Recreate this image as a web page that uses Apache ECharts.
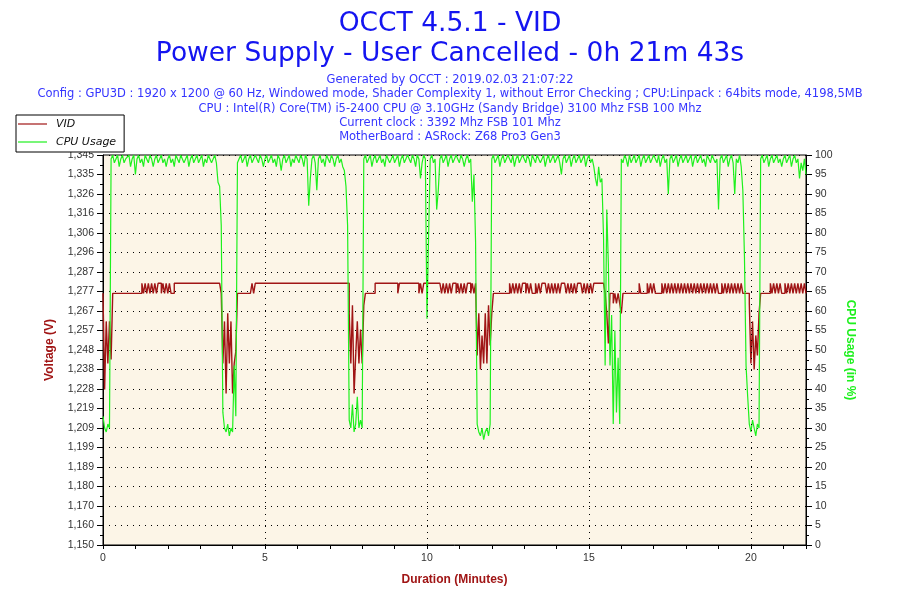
<!DOCTYPE html>
<html><head><meta charset="utf-8">
<script src="https://cdn.jsdelivr.net/npm/echarts@6/dist/echarts.min.js"></script>
<style>html,body{margin:0;padding:0;background:#fff}#c{width:900px;height:600px}</style>
</head><body><div id="c"></div>
<script>
// VID levels (V)
const H = 1.281, B = 1.276;
// sample spacing in minutes
const STEP = 0.05;

const cpuUsage = [
 33,30,29,31,30,99,100,98,99,100,97,99,100,98,99,99,100,97,99,100,
 95,99,100,98,99,97,100,99,98,100,99,97,99,100,98,99,100,98,99,97,
 99,100,98,99,97,100,99,98,100,99,98,99,100,97,99,100,98,99,100,98,
 99,100,97,99,98,100,99,98,99,100,98,93,92,82,34,30,29,31,28,30,
 29,46,33,98,99,100,98,99,100,97,99,100,98,99,100,99,98,100,99,97,
 99,100,98,99,100,98,99,97,100,99,96,99,100,98,99,100,97,99,98,100,
 99,98,100,99,97,100,99,87,94,99,100,98,91,99,100,98,99,97,100,99,
 98,100,99,97,99,100,98,99,97,96,92,82,32,30,36,29,31,38,30,32,
 30,99,100,98,99,100,97,99,100,98,99,100,98,99,97,100,99,98,99,100,
 98,99,100,97,99,100,98,99,100,99,98,100,99,97,100,99,94,98,100,99,
 58,79,99,100,98,99,86,91,99,100,98,99,100,97,99,100,98,99,100,99,
 98,100,99,97,99,100,98,99,88,95,78,31,29,28,30,27,29,30,28,31,
 99,100,98,99,100,97,99,100,98,99,100,99,98,100,97,99,100,98,99,100,
 99,98,100,99,97,100,99,98,100,99,98,99,100,97,99,100,98,99,100,98,
 99,100,98,95,99,100,98,99,100,97,99,100,98,99,100,98,99,100,97,99,
 100,98,99,97,94,92,97,93,94,79,46,86,72,46,59,31,55,34,48,31,
 99,98,100,99,97,100,98,99,100,98,99,100,97,99,100,98,99,100,98,99,
 100,99,98,100,97,99,100,98,99,90,99,100,98,99,100,97,99,100,98,99,
 100,98,99,100,97,99,100,98,99,100,98,99,97,100,99,98,100,99,98,99,
 86,99,100,98,99,100,97,99,100,98,90,99,98,100,97,91,74,46,38,31,
 29,32,30,28,31,30,99,100,98,99,100,97,99,100,98,99,100,98,99,97,
 99,100,98,99,100,97,99,100,98,99,94,98,96,99,95
];

const vid = [
 B,1.228,1.262,1.241,1.262,1.243,B,B,B,B,B,B,B,B,B,B,B,B,B,B,
 B,B,B,B,H,B,H,B,H,B,H,B,H,B,H,H,B,H,B,H,
 B,H,B,B,H,H,H,H,H,H,H,H,H,H,H,H,H,H,H,H,
 H,H,H,H,H,H,H,H,H,H,H,H,H,B,1.241,1.262,1.226,1.266,1.241,1.262,
 1.226,1.241,1.247,B,B,B,B,B,B,B,B,B,H,B,H,H,H,H,H,H,
 H,H,H,H,H,H,H,H,H,H,H,H,H,H,H,H,H,H,H,H,
 H,H,H,H,H,H,H,H,H,H,H,H,H,H,H,H,H,H,H,H,
 H,H,H,H,H,H,H,H,H,H,H,H,1.266,1.241,1.270,1.226,1.245,1.262,1.241,1.258,
 1.241,1.270,B,B,B,B,B,B,H,H,H,H,H,H,H,H,H,H,H,H,
 H,H,B,H,H,H,H,H,H,H,H,H,H,H,H,B,H,B,H,H,
 H,H,H,H,H,H,H,H,H,B,H,B,H,B,H,B,H,H,B,H,
 B,H,B,H,B,H,H,B,H,B,H,1.245,1.266,1.238,1.255,1.241,1.266,1.241,1.270,1.250,
 1.266,B,B,B,B,B,B,B,B,B,B,H,B,H,B,H,B,H,B,H,
 H,B,H,B,H,B,B,H,B,H,B,H,H,H,B,H,B,H,B,H,
 B,H,B,H,H,H,B,H,B,H,B,H,B,H,H,H,B,H,B,H,
 B,H,B,H,H,H,H,H,H,H,B,1.266,1.251,B,B,1.271,B,1.271,B,1.271,
 1.266,B,B,B,B,B,B,B,B,B,B,H,B,B,B,B,H,B,H,B,
 H,B,B,B,B,H,B,H,B,H,B,H,B,H,B,H,B,H,B,H,
 B,H,B,H,B,H,B,H,B,H,B,H,B,H,B,H,B,H,B,H,
 B,B,H,B,H,B,H,B,H,B,H,B,H,B,H,B,B,B,B,1.271,
 1.241,1.262,1.238,1.255,1.245,1.266,B,B,B,B,B,B,H,B,H,B,H,B,H,B,
 B,H,B,H,B,H,B,H,B,H,B,H,B,H,B
];

const xMax = 21.7;                 // 0h 21m 43s
const xGridLines = [5, 10, 15, 20];
const vMin = 1.15043, vMax = 1.34503, vStep = 0.00973;

const titleLines = ['OCCT 4.5.1 - VID', 'Power Supply - User Cancelled - 0h 21m 43s'];
const infoLines = [
 'Generated by OCCT : 2019.02.03 21:07:22',
 'Config : GPU3D : 1920 x 1200 @ 60 Hz, Windowed mode, Shader Complexity 1, without Error Checking ; CPU:Linpack : 64bits mode, 4198,5MB',
 'CPU : Intel(R) Core(TM) i5-2400 CPU @ 3.10GHz (Sandy Bridge) 3100 Mhz FSB 100 Mhz',
 'Current clock : 3392 Mhz FSB 101 Mhz',
 'MotherBoard : ASRock: Z68 Pro3 Gen3'
];

const RED = '#a01515', GREEN = '#1ef01e';
const vidData = vid.map((v, i) => [+(i * STEP).toFixed(2), v]);
const cpuData = cpuUsage.map((v, i) => [+(i * STEP).toFixed(2), v]);

const chart = echarts.init(document.getElementById('c'), null, {renderer: 'canvas'});
const lab = {fontFamily: 'Liberation Sans', fontSize: 10.5, color: '#333'};
chart.setOption({
  animation: false,
  backgroundColor: '#fff',
  title: [
    {text: titleLines.join('\n'), left: 'center', top: 4,
     textStyle: {fontFamily: 'DejaVu Sans', fontSize: 26.5, lineHeight: 30, fontWeight: 'normal', color: '#1414f0'}},
    {text: infoLines.join('\n'), left: 'center', top: 68,
     textStyle: {fontFamily: 'DejaVu Sans', fontSize: 11.5, lineHeight: 14.3, fontWeight: 'normal', color: '#3535ff'}}
  ],
  legend: {
    left: 16, top: 115, orient: 'vertical',
    backgroundColor: '#fff', borderColor: '#000', borderWidth: 1,
    padding: [2, 8, 3, 2], itemGap: 4, itemWidth: 29, itemHeight: 1.2, icon: 'rect',
    textStyle: {fontFamily: 'DejaVu Sans', fontStyle: 'italic', fontSize: 11, color: '#111', lineHeight: 14, padding: [0, 0, 0, 4]},
    data: [{name: 'VID', itemStyle: {color: RED}}, {name: 'CPU Usage', itemStyle: {color: GREEN}}]
  },
  grid: {left: 103, right: 94, top: 155, bottom: 55, show: true,
         backgroundColor: '#fcf5e7', borderColor: '#000', borderWidth: 1},
  xAxis: {
    type: 'value', min: 0, max: xMax, interval: 1,
    name: 'Duration (Minutes)', nameLocation: 'middle', nameGap: 29,
    nameTextStyle: {fontFamily: 'Liberation Sans', fontSize: 12, fontWeight: 'bold', color: RED},
    axisLine: {lineStyle: {color: '#000'}},
    axisTick: {length: 4, lineStyle: {color: '#000'}},
    axisLabel: Object.assign({}, lab, {margin: 8, formatter: v => (Math.abs(v % 5) < 1e-9 ? String(v) : '')}),
    splitLine: {show: false}
  },
  yAxis: [
    {type: 'value', min: vMin, max: vMax, interval: vStep, position: 'left',
     name: 'Voltage (V)', nameLocation: 'middle', nameGap: 47,
     nameTextStyle: {fontFamily: 'Liberation Sans', fontSize: 12, fontWeight: 'bold', color: RED},
     axisLine: {show: true, lineStyle: {color: '#000'}},
     axisTick: {show: true, length: 6, lineStyle: {color: '#000'}},
     minorTick: {show: true, splitNumber: 2, length: 3, lineStyle: {color: '#000'}},
     axisLabel: Object.assign({}, lab, {margin: 9, formatter: v => v.toFixed(3).replace('.', ',')}),
     splitLine: {show: true, lineStyle: {color: '#000', type: [1, 5], width: 1}}},
    {type: 'value', min: 0, max: 100, interval: 5, position: 'right',
     name: 'CPU Usage (in %)', nameLocation: 'middle', nameGap: 38, nameRotate: -90,
     nameTextStyle: {fontFamily: 'Liberation Sans', fontSize: 12, fontWeight: 'bold', color: GREEN},
     axisLine: {show: true, lineStyle: {color: '#000'}},
     axisTick: {show: true, length: 6, lineStyle: {color: '#000'}},
     minorTick: {show: true, splitNumber: 2, length: 3, lineStyle: {color: '#000'}},
     axisLabel: Object.assign({}, lab, {margin: 9}),
     splitLine: {show: false}}
  ],
  series: [
    {name: 'VID', type: 'line', yAxisIndex: 0, data: vidData, step: 'end',
     showSymbol: false, symbol: 'none', color: RED, lineStyle: {color: RED, width: 1.4},
     markLine: {silent: true, symbol: 'none', label: {show: false},
       lineStyle: {color: '#000', type: [1, 5], width: 1},
       data: xGridLines.map(x => ({xAxis: x}))}},
    {name: 'CPU Usage', type: 'line', yAxisIndex: 1, data: cpuData,
     showSymbol: false, symbol: 'none', color: GREEN, lineStyle: {color: GREEN, width: 1.2}}
  ]
});
</script></body></html>
